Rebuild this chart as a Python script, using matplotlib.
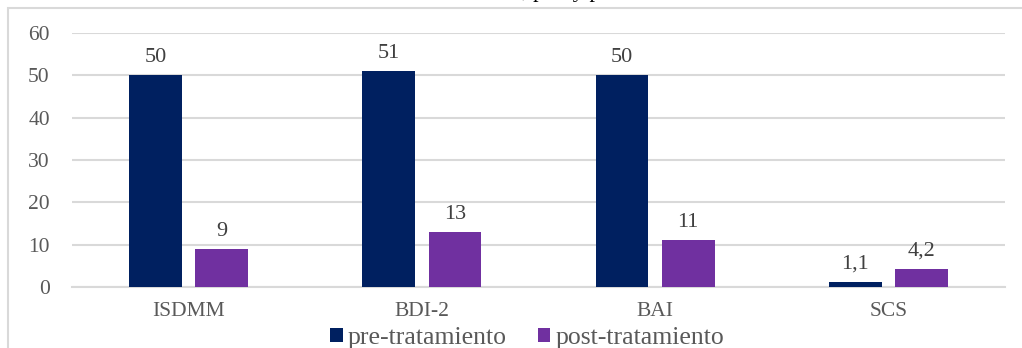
import numpy as np
import matplotlib
matplotlib.use("Agg")
import matplotlib.pyplot as plt
from matplotlib.patches import Rectangle

categories = ["ISDMM", "BDI-2", "BAI", "SCS"]
pre = [50, 51, 50, 1.1]
post = [9, 13, 11, 4.2]
pre_labels = ["50", "51", "50", "1,1"]
post_labels = ["9", "13", "11", "4,2"]
series_names = ["pre-tratamiento", "post-tratamiento"]
yticks = [0, 10, 20, 30, 40, 50, 60]

plt.rcParams['font.family'] = ['Liberation Serif', 'DejaVu Serif']
W, H = 1022, 348
fig = plt.figure(figsize=(W / 100, H / 100), dpi=100)

# chart frame, only its top and left edges are inside the crop
fig.patches.append(Rectangle((8 / W, -0.2), 1.2, 1.2 - 8 / H,
                             transform=fig.transFigure, fill=False,
                             edgecolor='#d9d9d9', lw=1.5))

# title sits above the crop, only the descenders show
fig.text(522 / W, 1 + 3 / H, "Puntuaciones totales", ha='right', va='baseline',
         fontsize=16, color='black')
fig.text(522 / W, 1 + 3 / H, ", pre  y post-tratamiento", ha='left', va='baseline',
         fontsize=16, color='black')

ax = fig.add_axes([72 / W, 1 - 287 / H, (1005 - 72) / W, (287 - 33) / H])
x = np.arange(len(categories))
w = 0.227
off = 0.142
b1 = ax.bar(x - off, pre, w, color='#002060', label=series_names[0], zorder=3)
b2 = ax.bar(x + off, post, w, color='#7030A0', label=series_names[1], zorder=3)

for rect, lab in zip(b1, pre_labels):
    ax.annotate(lab, (rect.get_x() + rect.get_width() / 2, rect.get_height()),
                xytext=(0, 6), textcoords='offset points', ha='center', va='bottom',
                fontsize=16, color='#404040')
for rect, lab in zip(b2, post_labels):
    ax.annotate(lab, (rect.get_x() + rect.get_width() / 2, rect.get_height()),
                xytext=(0, 6), textcoords='offset points', ha='center', va='bottom',
                fontsize=16, color='#404040')

ax.set_xlim(-0.5, len(categories) - 0.5)
ax.set_ylim(0, 60)
ax.set_yticks(yticks)
ax.set_xticks(x)
ax.set_xticklabels(categories)
ax.tick_params(axis='both', length=0, labelsize=15.5, labelcolor='#595959')
ax.tick_params(axis='y', pad=16)
ax.tick_params(axis='x', pad=11)
ax.grid(axis='y', color='#d9d9d9', lw=1.5, zorder=0)
for s in ['top', 'right', 'left']:
    ax.spines[s].set_visible(False)
ax.spines['bottom'].set_color('#d9d9d9')
ax.spines['bottom'].set_linewidth(1.5)

leg = fig.legend(loc='center', bbox_to_anchor=(527 / W, 1 - 338 / H), ncol=2,
                 frameon=False, fontsize=18.5, handlelength=0.5, handleheight=0.5,
                 handletextpad=0.2, columnspacing=1.2, labelcolor='#595959')

fig.savefig("out.png", dpi=100)
